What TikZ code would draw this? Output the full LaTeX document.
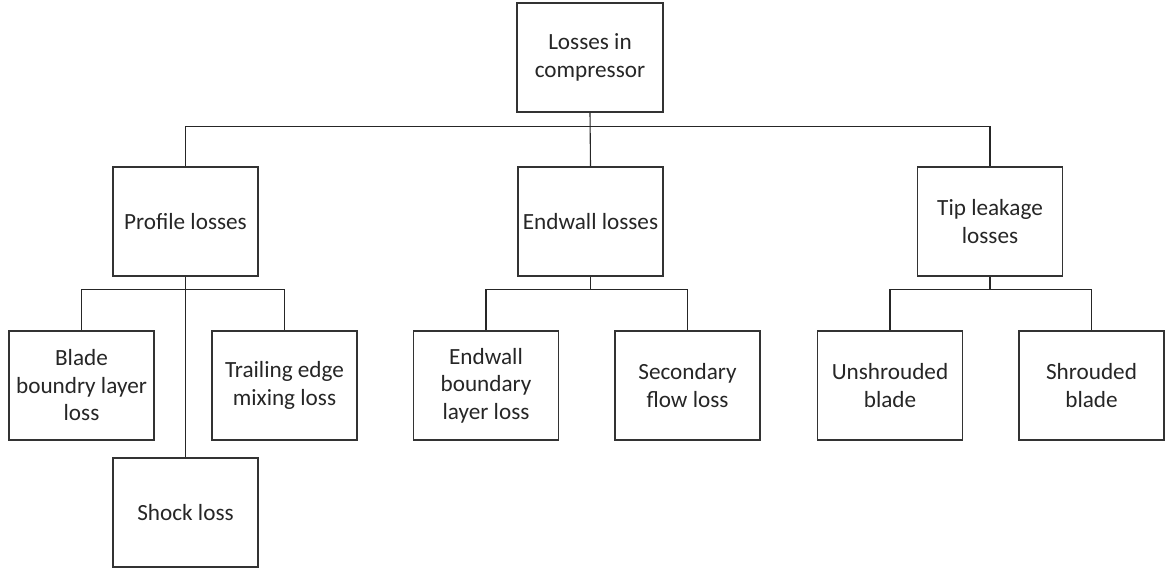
\documentclass[tikz,border=0pt]{standalone}
\usepackage{fontspec}
\setmainfont{Carlito}
\begin{document}
\begin{tikzpicture}[x=1pt,y=-1pt,
  box/.style={draw=black!80, line width=1.1pt, minimum width=145pt, minimum height=109pt,
    align=center, inner sep=2pt, font=\fontsize{23.2}{27.5}\selectfont, text=black!85},
  conn/.style={draw=black!85, line width=1.1pt}]
\useasboundingbox (0,0) rectangle (1166,570);
\node[box, minimum width=146pt] (top) at (590,57.5) {Losses in\\compressor};
\node[box] (prof) at (185.5,221.5) {Profile losses};
\node[box] (endw) at (590.5,221.5) {Endwall losses};
\node[box] (tip) at (990,221.5) {Tip leakage\\losses};
\node[box] (blade) at (81.5,385.5) {Blade\\boundry layer\\loss};
\node[box] (trail) at (284.5,385.5) {Trailing edge\\mixing loss};
\node[box] (shock) at (185.5,512.5) {Shock loss};
\node[box] (ebl) at (486,385.5) {Endwall\\boundary\\layer loss};
\node[box] (sec) at (687.5,385.5) {Secondary\\flow loss};
\node[box] (unsh) at (890,385.5) {Unshrouded\\blade};
\node[box] (shr) at (1091.5,385.5) {Shrouded\\blade};
\path (top.south) ++(0,14) coordinate (j0);
\path (prof.south) ++(0,13) coordinate (j1);
\path (endw.south) ++(0,13) coordinate (j2);
\path (tip.south) ++(0,13) coordinate (j3);
\draw[conn] (top.south) -- (endw.north);
\draw[conn] (prof.north) |- (j0) -| (tip.north);
\draw[conn] (prof.south) -- (shock.north);
\draw[conn] (blade.north) |- (j1) -| (trail.north);
\draw[conn] (endw.south) -- (j2);
\draw[conn] (ebl.north) |- (j2) -| (sec.north);
\draw[conn] (tip.south) -- (j3);
\draw[conn] (unsh.north) |- (j3) -| (shr.north);
\end{tikzpicture}
\end{document}
